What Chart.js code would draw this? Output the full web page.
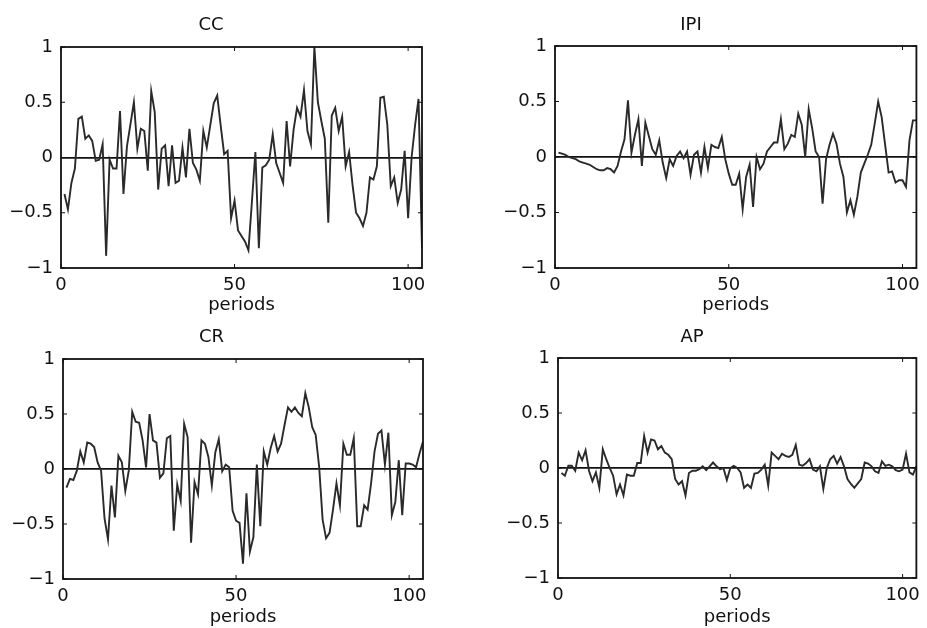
<!DOCTYPE html>
<html>
<head>
<meta charset="utf-8">
<script src="https://cdn.jsdelivr.net/npm/chart.js@4.4.1/dist/chart.umd.min.js"></script>
<style>
  html, body { margin: 0; padding: 0; background: #fff; }
  #wrap { position: relative; width: 927px; height: 628px; overflow: hidden; }
  .panel { position: absolute; }
</style>
</head>
<body>
<div id="wrap">
  <div class="panel" style="left:0;top:0"><canvas id="cc" width="463" height="314"></canvas></div>
  <div class="panel" style="left:463px;top:0"><canvas id="ipi" width="464" height="314"></canvas></div>
  <div class="panel" style="left:0;top:314px"><canvas id="cr" width="463" height="314"></canvas></div>
  <div class="panel" style="left:463px;top:314px"><canvas id="ap" width="464" height="314"></canvas></div>
</div>
<script>
// periods 1..104 on the x axis
const periods = Array.from({ length: 104 }, (_, i) => i + 1);
const xTicks = [0, 50, 100];
const yTicks = [-1, -0.5, 0, 0.5, 1];

const ccValues = [
  -0.33, -0.47, -0.23, -0.1, 0.35, 0.37, 0.17, 0.2, 0.15, -0.03,
  -0.02, 0.12, -0.89, -0.02, -0.1, -0.1, 0.42, -0.33, 0.1, 0.3,
  0.5, 0.08, 0.26, 0.24, -0.12, 0.6, 0.41, -0.29, 0.08, 0.11,
  -0.26, 0.11, -0.23, -0.21, 0.09, -0.18, 0.26, -0.05, -0.11, -0.21,
  0.24, 0.09, 0.29, 0.49, 0.56, 0.29, 0.03, 0.06, -0.55, -0.39,
  -0.66, -0.71, -0.76, -0.84, -0.4, 0.05, -0.82, -0.09, -0.07, -0.02,
  0.21, -0.05, -0.14, -0.23, 0.33, -0.08, 0.25, 0.45, 0.37, 0.61,
  0.24, 0.12, 1.0, 0.5, 0.33, 0.17, -0.59, 0.38, 0.45, 0.24,
  0.37, -0.08, 0.05, -0.25, -0.5, -0.55, -0.62, -0.5, -0.18, -0.2,
  -0.08, 0.54, 0.55, 0.3, -0.26, -0.18, -0.41, -0.29, 0.06, -0.55,
  0.0, 0.29, 0.53, -0.82
];

const ipiValues = [
  0.04, 0.03, 0.02, 0.0, -0.01, -0.02, -0.04, -0.05, -0.06, -0.07,
  -0.09, -0.11, -0.12, -0.12, -0.1, -0.11, -0.14, -0.08, 0.05, 0.16,
  0.51, 0.04, 0.2, 0.34, -0.08, 0.31, 0.19, 0.07, 0.02, 0.15,
  -0.05, -0.19, -0.02, -0.08, 0.01, 0.05, -0.01, 0.05, -0.16, 0.02,
  0.05, -0.14, 0.09, -0.1, 0.11, 0.09, 0.08, 0.18, -0.02, -0.15,
  -0.25, -0.25, -0.15, -0.47, -0.18, -0.07, -0.45, 0.0, -0.11, -0.06,
  0.05, 0.09, 0.13, 0.13, 0.34, 0.07, 0.12, 0.2, 0.18, 0.39,
  0.29, 0.0, 0.43, 0.26, 0.05, 0.0, -0.42, -0.02, 0.11, 0.21,
  0.12, -0.06, -0.18, -0.5, -0.39, -0.52, -0.36, -0.14, -0.06, 0.02,
  0.11, 0.3, 0.5, 0.36, 0.11, -0.14, -0.13, -0.23, -0.21, -0.21,
  -0.27, 0.15, 0.33, 0.33
];

const crValues = [
  -0.17, -0.09, -0.1, -0.015, 0.16, 0.06, 0.24, 0.23, 0.2, 0.06,
  -0.015, -0.45, -0.64, -0.15, -0.44, 0.12, 0.06, -0.2, -0.015, 0.52,
  0.43, 0.42, 0.26, 0.015, 0.5, 0.26, 0.24, -0.08, -0.04, 0.28,
  0.3, -0.56, -0.14, -0.29, 0.41, 0.29, -0.67, -0.12, -0.23, 0.26,
  0.23, 0.11, -0.15, 0.15, 0.27, -0.02, 0.04, 0.015, -0.38, -0.47,
  -0.49, -0.86, -0.22, -0.75, -0.62, 0.04, -0.52, 0.16, 0.04, 0.19,
  0.3, 0.16, 0.23, 0.4, 0.56, 0.52, 0.56, 0.51, 0.48, 0.69,
  0.56, 0.38, 0.31, 0.02, -0.46, -0.63, -0.58, -0.37, -0.13, -0.33,
  0.23, 0.13, 0.13, 0.28, -0.52, -0.52, -0.33, -0.37, -0.13, 0.16,
  0.32, 0.35, 0.04, 0.33, -0.42, -0.3, 0.08, -0.42, 0.05, 0.05,
  0.04, 0.015, 0.14, 0.25
];

const apValues = [
  -0.045, -0.07, 0.02, 0.02, -0.025, 0.14, 0.07, 0.16, -0.025, -0.12,
  -0.04, -0.18, 0.17, 0.08, 0.0, -0.07, -0.24, -0.15, -0.25, -0.06,
  -0.07, -0.07, 0.045, 0.045, 0.29, 0.14, 0.26, 0.25, 0.17, 0.2,
  0.14, 0.12, 0.08, -0.1, -0.15, -0.12, -0.25, -0.045, -0.025, -0.025,
  -0.01, 0.015, -0.02, 0.015, 0.05, 0.015, -0.01, 0.0, -0.11, 0.0,
  0.02, 0.0, -0.04, -0.18, -0.15, -0.18, -0.05, -0.045, -0.015, 0.03,
  -0.16, 0.14, 0.11, 0.08, 0.13, 0.11, 0.1, 0.12, 0.21, 0.03,
  0.02, 0.045, 0.08, -0.015, -0.03, 0.015, -0.19, 0.0, 0.08, 0.11,
  0.04, 0.1, 0.015, -0.1, -0.145, -0.18, -0.14, -0.1, 0.05, 0.04,
  0.015, -0.03, -0.045, 0.06, 0.02, 0.03, 0.015, -0.02, -0.03, -0.015,
  0.13, -0.04, -0.06, 0.015
];

const FONT = 'DejaVu Sans';
const INK = '#111';

// box round the plot plus small inward ticks, like the matlab axes
const framePlugin = {
  id: 'frame',
  afterDraw(chart) {
    const { ctx, chartArea: a, scales: { x, y } } = chart;
    ctx.save();
    ctx.strokeStyle = INK;
    ctx.lineWidth = 1.8;
    ctx.strokeRect(a.left, a.top, a.right - a.left, a.bottom - a.top);
    ctx.lineWidth = 1;
    ctx.beginPath();
    x.ticks.forEach(t => {
      const px = x.getPixelForValue(t.value);
      ctx.moveTo(px, a.bottom); ctx.lineTo(px, a.bottom - 4);
      ctx.moveTo(px, a.top); ctx.lineTo(px, a.top + 4);
    });
    y.ticks.forEach(t => {
      const py = y.getPixelForValue(t.value);
      ctx.moveTo(a.left, py); ctx.lineTo(a.left + 4, py);
      ctx.moveTo(a.right, py); ctx.lineTo(a.right - 4, py);
    });
    ctx.stroke();
    ctx.restore();
  }
};

function makePanel(id, title, values, p) {
  const ctx = document.getElementById(id).getContext('2d');
  return new Chart(ctx, {
    type: 'line',
    data: {
      datasets: [{
        data: periods.map((t, i) => ({ x: t, y: values[i] })),
        borderColor: '#2a2a2a',
        borderWidth: 1.9,
        pointRadius: 0,
        tension: 0
      }]
    },
    options: {
      responsive: false,
      animation: false,
      layout: { padding: { left: 0, right: p.padRight, top: 0, bottom: 0 } },
      plugins: {
        legend: { display: false },
        tooltip: { enabled: false },
        title: {
          display: true,
          text: title,
          color: INK,
          font: { family: FONT, size: 18, weight: 'normal', lineHeight: 1 },
          padding: { top: p.titleTop, bottom: p.titleBottom }
        }
      },
      scales: {
        x: {
          type: 'linear',
          min: 0,
          max: 104,
          afterFit: s => { s.height = p.xAxisH; },
          afterBuildTicks: s => { s.ticks = xTicks.map(v => ({ value: v })); },
          grid: { display: false, drawTicks: false },
          border: { display: false },
          ticks: {
            color: INK,
            padding: 7,
            font: { family: FONT, size: 18 },
            callback: v => String(v)
          },
          title: {
            display: true,
            text: 'periods',
            color: INK,
            font: { family: FONT, size: 18, lineHeight: 1 },
            padding: { top: 0, bottom: p.xTitleBottom }
          }
        },
        y: {
          min: -1,
          max: 1,
          afterFit: s => { s.width = p.yAxisW; },
          afterBuildTicks: s => { s.ticks = yTicks.map(v => ({ value: v })); },
          grid: {
            drawTicks: false,
            color: c => c.tick && c.tick.value === 0 ? INK : 'rgba(0,0,0,0)',
            lineWidth: 1.8
          },
          border: { display: false },
          ticks: {
            color: INK,
            padding: 8,
            font: { family: FONT, size: 18 },
            callback: v => v < 0 ? '\u2212' + Math.abs(v) : String(v)
          }
        }
      }
    },
    plugins: [framePlugin]
  });
}

makePanel('cc', 'CC', ccValues, { yAxisW: 61, padRight: 41, titleTop: 16, titleBottom: 13, xAxisH: 46, xTitleBottom: 0 });
makePanel('ipi', 'IPI', ipiValues, { yAxisW: 92, padRight: 8, titleTop: 16, titleBottom: 12, xAxisH: 46, xTitleBottom: 0 });
makePanel('cr', 'CR', crValues, { yAxisW: 63, padRight: 40, titleTop: 14, titleBottom: 13, xAxisH: 49, xTitleBottom: 2 });
makePanel('ap', 'AP', apValues, { yAxisW: 95, padRight: 6, titleTop: 14, titleBottom: 12, xAxisH: 50, xTitleBottom: 2 });
</script>
</body>
</html>
